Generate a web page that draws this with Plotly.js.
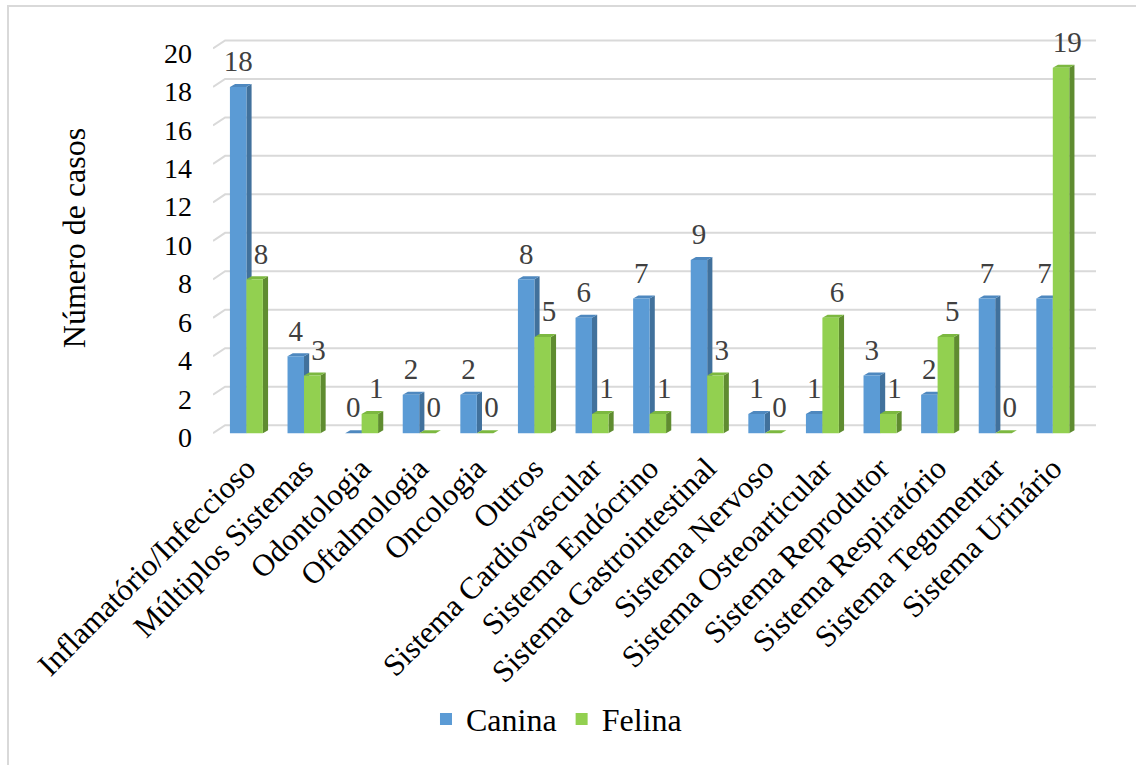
<!DOCTYPE html>
<html>
<head>
<meta charset="utf-8">
<script src="https://cdn.plot.ly/plotly-3.0.1.min.js"></script>
<style>
  html, body { margin: 0; padding: 0; background: #fff; }
  #chart { width: 1136px; height: 765px; }
  #frame { position: absolute; left: 7px; top: 5px; width: 1140px; height: 770px;
           border-left: 2px solid #d9d9d9; border-top: 2px solid #d9d9d9; pointer-events: none; }
</style>
</head>
<body>
<div id="chart"></div>
<div id="frame"></div>
<script>
const categories = [
  "Inflamatório/Infeccioso", "Múltiplos Sistemas", "Odontologia", "Oftalmologia",
  "Oncologia", "Outros", "Sistema Cardiovascular", "Sistema Endócrino",
  "Sistema Gastrointestinal", "Sistema Nervoso", "Sistema Osteoarticular",
  "Sistema Reprodutor", "Sistema Respiratório", "Sistema Tegumentar", "Sistema Urinário"
];
const canina = [18, 4, 0, 2, 2, 8, 6, 7, 9, 1, 1, 3, 2, 7, 7];
const felina = [8, 3, 1, 0, 0, 5, 1, 1, 3, 0, 6, 1, 5, 0, 19];
const yTicks = [0, 2, 4, 6, 8, 10, 12, 14, 16, 18, 20];

const SERIF = "Liberation Serif";
const xs = categories.map((_, i) => i);
const W = 0.286;     // front face width (category units)
const D = 0.09;      // depth offset x
const H = 0.16;      // depth offset y
const XMIN = -0.58, XMAX = 14.75;
const LABEL_SHIFT = -0.22; // tick labels sit slightly below the front grid level

const series = [
  {name: "Canina", vals: canina, off: -W, lab: 0, front: "#5b9bd5", side: "#41719c", top: "#4e88bf"},
  {name: "Felina", vals: felina, off: 0, lab: 0.11, front: "#92d050", side: "#5f8c30", top: "#7cb840"}
];

const traces = series.map(s => ({
  type: "bar", name: s.name, x: xs, y: s.vals,
  offset: s.off, width: W,
  marker: {color: s.front, line: {width: 0}},
  hoverinfo: "x+y"
}));
series.forEach(s => {
  traces.push({
    type: "scatter", mode: "markers+text", showlegend: false,
    x: xs.map(i => i + s.off + W / 2 + s.lab), y: s.vals,
    text: s.vals.map(String), textposition: "top center",
    marker: {size: 12, opacity: 0},
    textfont: {family: SERIF, size: 29, color: "#404040"},
    cliponaxis: false, hoverinfo: "skip"
  });
});

const shapes = [];
yTicks.forEach(v => {
  shapes.push({type: "path", xref: "x", yref: "y", layer: "below",
    path: `M${XMIN},${v} L${XMIN + 0.21},${v + 0.42} L${XMAX},${v + 0.42}`,
    line: {color: "#d9d9d9", width: 2}});
});
series.forEach(s => {
  s.vals.forEach((v, i) => {
    const x0 = i + s.off, x1 = x0 + W;
    shapes.push({type: "path", xref: "x", yref: "y", layer: "below",
      path: `M${x1},0 L${x1 + D},${H} L${x1 + D},${v + H} L${x1},${v} Z`,
      fillcolor: s.side, line: {width: 0}});
    shapes.push({type: "path", xref: "x", yref: "y", layer: "below",
      path: `M${x0},${v} L${x1},${v} L${x1 + D},${v + H} L${x0 + D},${v + H} Z`,
      fillcolor: s.top, line: {width: 0}});
  });
});

const layout = {
  width: 1136, height: 765,
  font: {family: SERIF, color: "#000"},
  margin: {l: 213, r: 40, t: 37, b: 326},
  paper_bgcolor: "#ffffff", plot_bgcolor: "rgba(0,0,0,0)",
  barmode: "overlay",
  showlegend: true,
  legend: {orientation: "h", x: 0.389, xanchor: "center",
           y: -0.697, yanchor: "middle",
           font: {family: SERIF, size: 32, color: "#000"}, traceorder: "normal",
           itemwidth: 30},
  xaxis: {
    range: [XMIN, XMAX], tickmode: "array", tickvals: xs, ticktext: categories,
    tickangle: -45, showgrid: false, zeroline: false, showline: false, ticks: "",
    ticklabelstandoff: 4,
    tickfont: {family: SERIF, size: 31, color: "#000"}
  },
  yaxis: {
    range: [-0.3, 20.6], tickmode: "array",
    tickvals: yTicks.map(v => v + LABEL_SHIFT), ticktext: yTicks.map(String),
    showgrid: false, zeroline: false, showline: false, ticks: "",
    ticklabelstandoff: 20,
    tickfont: {family: SERIF, size: 28, color: "#000"},
    title: {text: "Número de casos", font: {family: SERIF, size: 32, color: "#000"}, standoff: 68}
  },
  shapes: shapes
};

Plotly.newPlot("chart", traces, layout, {displayModeBar: false, staticPlot: true});
</script>
</body>
</html>
